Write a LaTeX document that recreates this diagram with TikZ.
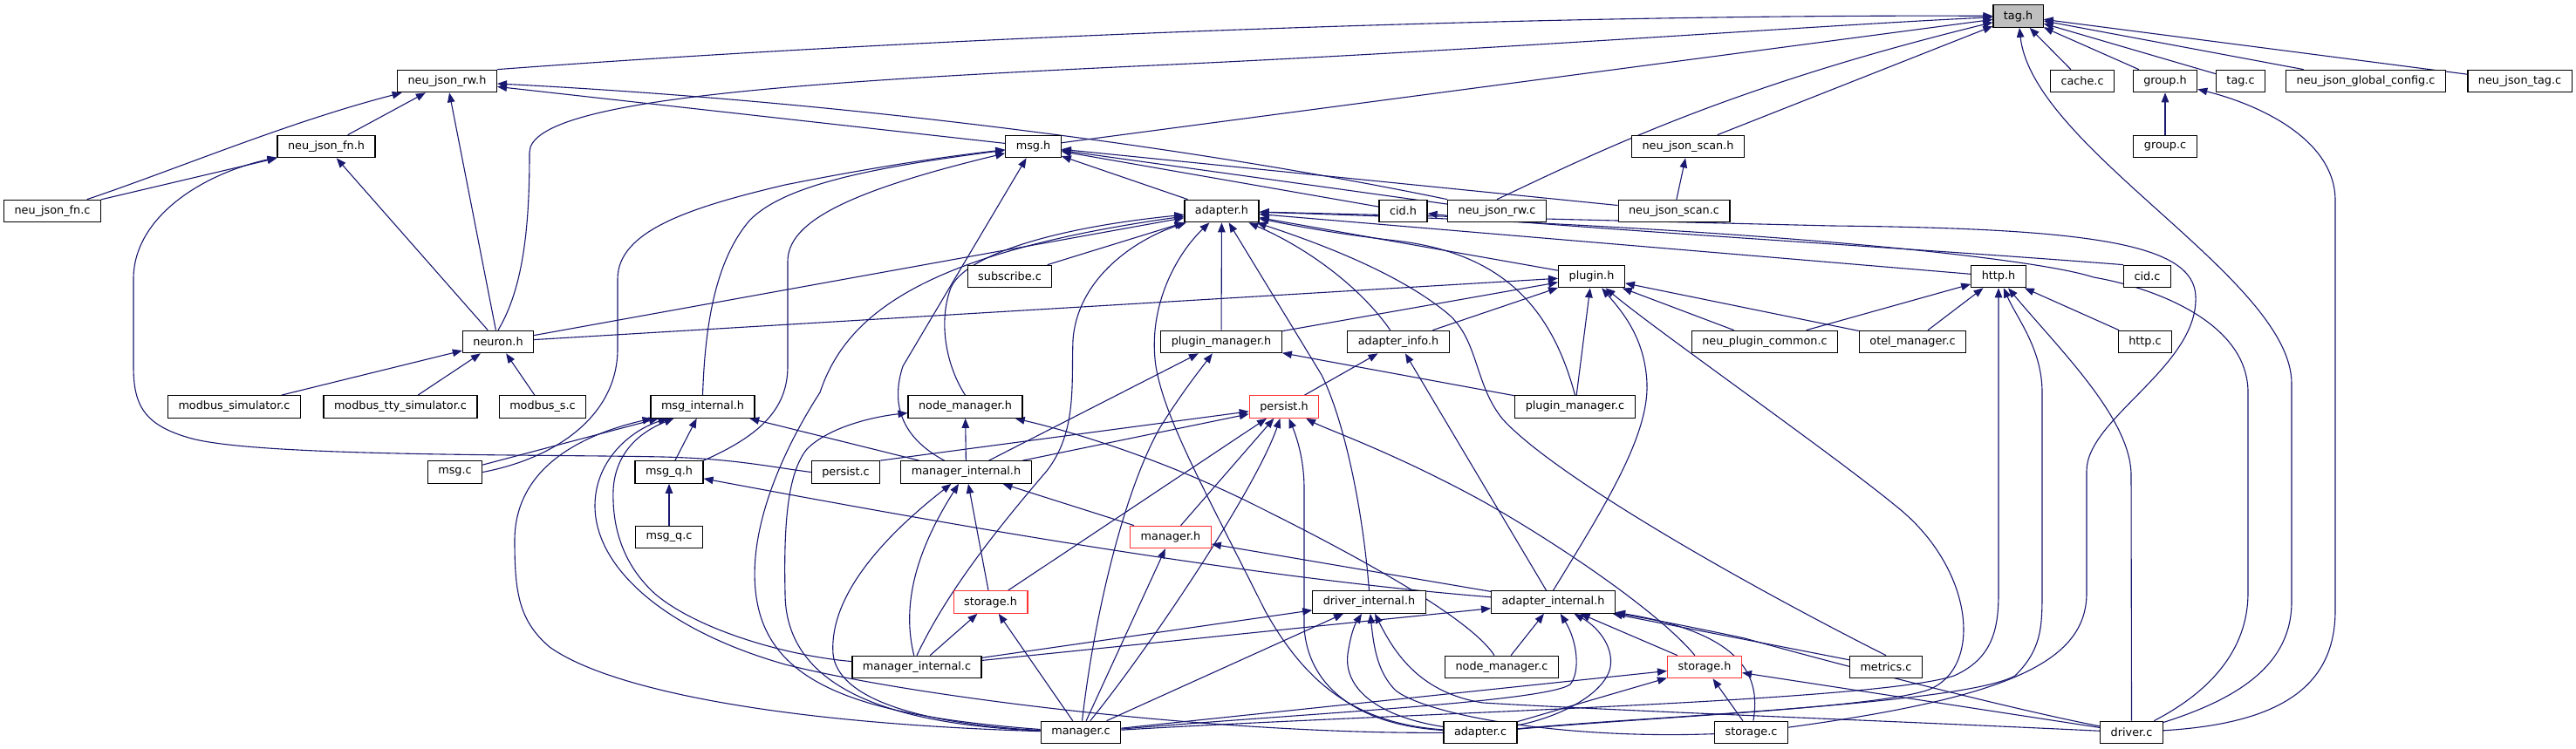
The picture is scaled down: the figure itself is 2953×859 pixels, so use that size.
\documentclass[tikz,border=0pt]{standalone}
\usepackage{fontspec}
\setmainfont{DejaVu Sans}
\usetikzlibrary{arrows.meta}
\pgfdeclarelayer{back}
\pgfdeclarelayer{bg}
\pgfsetlayers{back,bg,main}
\definecolor{depcol}{HTML}{191970}
\definecolor{redbd}{HTML}{FF3333}
\definecolor{maingray}{HTML}{BFBFBF}
\begin{document}
\begin{tikzpicture}[x=1pt,y=-1pt,
  box/.style={draw=black, line width=1.2pt, fill=white, minimum height=25.5pt,
    inner xsep=12pt, inner ysep=0pt, font=\fontsize{12.8}{15}\selectfont, text=black},
  hl/.style={box, draw=redbd},
  dep/.style={draw=depcol, line width=1.1pt, -{Triangle[length=11pt,width=8.5pt]}},
]
\begin{pgfonlayer}{back}
\fill[white] (0,0) rectangle (2953,859);
\end{pgfonlayer}
\useasboundingbox (0,0) rectangle (2953,859);

% ---------- nodes ----------
\node[box, fill=maingray] (tagh) at (2313.5,18.5) {tag.h};
\node[box] (jsonrwh) at (512.5,93) {neu\_json\_rw.h};
\node[box] (cachec) at (2387,93) {cache.c};
\node[box] (grouph) at (2482,93) {group.h};
\node[box] (tagc) at (2568.5,93) {tag.c};
\node[box] (globalc) at (2712,93) {neu\_json\_global\_config.c};
\node[box] (jsontagc) at (2888.5,93) {neu\_json\_tag.c};
\node[box] (jsonfnh) at (374,168) {neu\_json\_fn.h};
\node[box] (msgh) at (1184.5,168) {msg.h};
\node[box] (scanh) at (1935,168) {neu\_json\_scan.h};
\node[box] (groupc) at (2482,168) {group.c};
\node[box] (jsonfnc) at (60,242) {neu\_json\_fn.c};
\node[box] (adapterh) at (1400.5,242) {adapter.h};
\node[box] (cidh) at (1608.5,242) {cid.h};
\node[box] (jsonrwc) at (1716,242) {neu\_json\_rw.c};
\node[box] (scanc) at (1919,242) {neu\_json\_scan.c};
\node[box] (subscribec) at (1157.5,317) {subscribe.c};
\node[box] (pluginh) at (1824.5,317) {plugin.h};
\node[box] (httph) at (2291,317) {http.h};
\node[box] (cidc) at (2461.5,317) {cid.c};
\node[box] (neuronh) at (571,392) {neuron.h};
\node[box] (pmh) at (1400,392) {plugin\_manager.h};
\node[box] (aih) at (1603,392) {adapter\_info.h};
\node[box] (npcc) at (2023,392) {neu\_plugin\_common.c};
\node[box] (otelc) at (2192.5,392) {otel\_manager.c};
\node[box] (httpc) at (2459,392) {http.c};
\node[box] (modsimc) at (268.5,466.5) {modbus\_simulator.c};
\node[box] (modttyc) at (459,466.5) {modbus\_tty\_simulator.c};
\node[box] (modsc) at (622,466.5) {modbus\_s.c};
\node[box] (msginth) at (805.5,466.5) {msg\_internal.h};
\node[box] (nmh) at (1106.5,466.5) {node\_manager.h};
\node[hl] (persisth) at (1472,466.5) {persist.h};
\node[box] (pmc) at (1805.5,466.5) {plugin\_manager.c};
\node[box] (msgc) at (521.5,541.5) {msg.c};
\node[box] (msgqh) at (767,541.5) {msg\_q.h};
\node[box] (persistc) at (969.5,541.5) {persist.c};
\node[box] (mih) at (1107.5,541.5) {manager\_internal.h};
\node[box] (msgqc) at (767,616) {msg\_q.c};
\node[hl] (managerh) at (1342,616) {manager.h};
\node[hl] (storageh1) at (1135.5,690.5) {storage.h};
\node[box] (dih) at (1569.5,690.5) {driver\_internal.h};
\node[box] (aih2) at (1780.5,690.5) {adapter\_internal.h};
\node[box] (mic) at (1051,765) {manager\_internal.c};
\node[box] (nmc) at (1721.5,765) {node\_manager.c};
\node[hl] (storageh2) at (1954,765) {storage.h};
\node[box] (metricsc) at (2162,765) {metrics.c};
\node[box] (managerc) at (1239,840) {manager.c};
\node[box] (adapterc) at (1697,840) {adapter.c};
\node[box] (storagec) at (2007.5,840) {storage.c};
\node[box] (driverc) at (2443.5,840) {driver.c};

\begin{pgfonlayer}{bg}
% ---------- tag.h ----------
\draw[dep] (jsonrwh.north east) .. controls (1100,40) and (1800,16) .. (tagh);
\draw[dep] (neuronh.north) .. controls (600,330) and (607,260) .. (607,175) .. controls (607,115) and (900,95) .. (1300,76) .. controls (1700,58) and (2100,28) .. (tagh);
\draw[dep] (msgh) -- (tagh);
\draw[dep] (jsonrwc.north) .. controls (1830,175) and (1980,100) .. (tagh);
\draw[dep] (scanh) -- (tagh);
\draw[dep] (cachec) -- (tagh);
\draw[dep] (grouph) -- (tagh);
\draw[dep] (tagc) -- (tagh);
\draw[dep] (globalc) -- (tagh);
\draw[dep] (jsontagc) -- (tagh);
\draw[dep] (driverc) .. controls (2570,800) and (2627,760) .. (2627,690) -- (2627,440) .. controls (2627,320) and (2330,170) .. (tagh);
% ---------- neu_json_rw.h ----------
\draw[dep] (jsonfnc) .. controls (200,195) and (330,140) .. (jsonrwh);
\draw[dep] (jsonfnh) -- (jsonrwh);
\draw[dep] (neuronh) -- (jsonrwh);
\draw[dep] (msgh) -- (jsonrwh);
\draw[dep] (jsonrwc.north west) .. controls (1400,175) and (1000,118) .. (jsonrwh);
% ---------- group.h ----------
\draw[dep] (groupc) -- (grouph);
\draw[dep] (driverc) .. controls (2610,830) and (2677,790) .. (2677,700) -- (2677,230) .. controls (2677,160) and (2590,120) .. (grouph);
% ---------- neu_json_fn.h ----------
\draw[dep] (jsonfnc) -- (jsonfnh);
\draw[dep] (neuronh) -- (jsonfnh);
\draw[dep] (persistc.west) .. controls (880,535) and (840,526) .. (760,524) .. controls (620,521) and (300,524) .. (220,503) .. controls (165,488) and (153,465) .. (153,420) -- (153,320) .. controls (153,250) and (230,200) .. (jsonfnh);
% ---------- msg.h ----------
\draw[dep] (adapterh) -- (msgh);
\draw[dep] (cidh) -- (msgh);
\draw[dep] (jsonrwc) -- (msgh);
\draw[dep] (scanc) -- (msgh);
\draw[dep] (mih) .. controls (1030,500) and (1022,460) .. (1035,420) -- (msgh);
\draw[dep] (msgc.east) .. controls (640,525) and (708,475) .. (708,400) -- (708,320) .. controls (708,265) and (790,238) .. (900,212) .. controls (1000,192) and (1080,180) .. (msgh);
\draw[dep] (msginth.north) .. controls (808,380) and (818,300) .. (860,252) .. controls (900,212) and (1000,192) .. (msgh);
\draw[dep] (msgqh.north east) .. controls (870,500) and (903,470) .. (903,420) -- (903,300) .. controls (903,258) and (960,222) .. (msgh);
% ---------- neu_json_scan.h ----------
\draw[dep] (scanc) -- (scanh);
% ---------- adapter.h ----------
\draw[dep] (neuronh) -- (adapterh);
\draw[dep] (nmh.north) .. controls (1085,420) and (1075,370) .. (1090,330) .. controls (1105,295) and (1200,262) .. (adapterh);
\draw[dep] (managerc) .. controls (1000,822) and (893,790) .. (870,700) .. controls (850,620) and (895,520) .. (940,450) .. controls (970,360) and (1060,290) .. (adapterh);
\draw[dep] (subscribec) -- (adapterh);
\draw[dep] (mic.north) .. controls (1085,680) and (1140,610) .. (1200,540) .. controls (1235,495) and (1228,440) .. (1230,390) .. controls (1235,320) and (1300,275) .. (adapterh);
\draw[dep] (pmh) -- (adapterh);
\draw[dep] (adapterc) .. controls (1560,830) and (1500,790) .. (1450,700) .. controls (1380,560) and (1335,480) .. (1325,420) .. controls (1315,350) and (1350,290) .. (adapterh);
\draw[dep] (dih.north) .. controls (1562,580) and (1540,480) .. (1515,430) -- (adapterh);
\draw[dep] (aih) .. controls (1560,330) and (1500,285) .. (adapterh);
\draw[dep] (pluginh) -- (adapterh);
\draw[dep] (pmc.north) .. controls (1778,350) and (1720,290) .. (1600,276) .. controls (1530,268) and (1480,258) .. (adapterh);
\draw[dep] (metricsc.north) .. controls (2000,670) and (1780,545) .. (1722,480) .. controls (1690,440) and (1695,390) .. (1660,360) .. controls (1600,310) and (1500,275) .. (adapterh);
\draw[dep] (storagec) .. controls (2300,800) and (2392,760) .. (2392,680) -- (2392,540) .. controls (2392,480) and (2520,420) .. (2517,340) .. controls (2515,280) and (2400,262) .. (2100,259) -- (adapterh);
\draw[dep] (driverc) .. controls (2540,790) and (2577,740) .. (2577,680) -- (2577,450) .. controls (2577,370) and (2470,330) .. (2400,318) .. controls (2330,295) and (2000,260) .. (adapterh);
\draw[dep] (httph) -- (adapterh);
% ---------- cid.h ----------
\draw[dep] (cidc.north west) .. controls (2200,285) and (1800,262) .. (cidh);
% ---------- plugin.h ----------
\draw[dep] (neuronh) -- (pluginh);
\draw[dep] (pmh) -- (pluginh);
\draw[dep] (aih) -- (pluginh);
\draw[dep] (pmc) -- (pluginh);
\draw[dep] (aih2.north) .. controls (1840,580) and (1890,500) .. (1888,440) .. controls (1886,390) and (1862,360) .. (pluginh);
\draw[dep] (adapterc) .. controls (1900,822) and (2150,812) .. (2211,791) .. controls (2275,765) and (2262,650) .. (2173,580) .. controls (2100,520) and (1900,380) .. (pluginh);
\draw[dep] (npcc) -- (pluginh);
\draw[dep] (otelc) -- (pluginh);
% ---------- http.h ----------
\draw[dep] (npcc) -- (httph);
\draw[dep] (otelc) -- (httph);
\draw[dep] (httpc) -- (httph);
\draw[dep] (driverc.north) -- (2443,545) .. controls (2443,480) and (2360,400) .. (httph);
\draw[dep] (managerc) .. controls (1600,818) and (2150,805) .. (2240,775) .. controls (2285,755) and (2291,720) .. (2291,680) -- (httph);
\draw[dep] (adapterc) .. controls (1880,822) and (2250,808) .. (2310,775) .. controls (2340,745) and (2341,720) .. (2341,680) -- (2341,450) .. controls (2341,400) and (2312,365) .. (httph);
% ---------- adapter_info.h ----------
\draw[dep] (persisth) -- (aih);
\draw[dep] (aih2) -- (aih);
% ---------- plugin_manager.h ----------
\draw[dep] (pmc) -- (pmh);
\draw[dep] (mih) -- (pmh);
\draw[dep] (managerc) .. controls (1255,700) and (1290,560) .. (1330,490) .. controls (1355,450) and (1375,425) .. (pmh);
% ---------- node_manager.h ----------
\draw[dep] (mih) -- (nmh);
\draw[dep] (managerc) .. controls (1000,830) and (900,780) .. (900,680) .. controls (898,590) and (905,540) .. (925,515) .. controls (950,490) and (1000,478) .. (nmh);
\draw[dep] (nmc) .. controls (1680,700) and (1500,610) .. (1440,580) .. controls (1350,535) and (1250,500) .. (nmh);
% ---------- msg_internal.h ----------
\draw[dep] (msgc) -- (msginth);
\draw[dep] (msgqh) -- (msginth);
\draw[dep] (mih) -- (msginth);
\draw[dep] (managerc) .. controls (900,830) and (700,792) .. (630,742) .. controls (595,712) and (590,680) .. (590,620) .. controls (590,540) and (660,500) .. (msginth);
\draw[dep] (adapterc) .. controls (1400,842) and (1050,800) .. (900,762) .. controls (760,722) and (682,650) .. (682,580) .. controls (682,530) and (720,495) .. (msginth);
\draw[dep] (mic) .. controls (900,752) and (800,722) .. (752,682) .. controls (707,642) and (702,592) .. (703,562) .. controls (705,522) and (730,497) .. (msginth);
% ---------- msg_q.h ----------
\draw[dep] (msgqc) -- (msgqh);
\draw[dep] (aih2) .. controls (1400,660) and (1000,585) .. (msgqh);
% ---------- persist.h ----------
\draw[dep] (persistc.north east) -- (persisth);
\draw[dep] (mih) -- (persisth);
\draw[dep] (storageh1) -- (persisth);
\draw[dep] (managerh) -- (persisth);
\draw[dep] (managerc) .. controls (1320,740) and (1440,560) .. (persisth);
\draw[dep] (adapterc) .. controls (1560,832) and (1500,790) .. (1495,720) -- (1495,560) .. controls (1495,530) and (1488,505) .. (persisth);
\draw[dep] (storageh2) .. controls (1900,700) and (1780,620) .. (1700,575) .. controls (1600,520) and (1520,492) .. (persisth);
% ---------- manager.h ----------
\draw[dep] (managerc) -- (managerh);
\draw[dep] (aih2) -- (managerh);
% ---------- manager_internal.h ----------
\draw[dep] (managerc) .. controls (1050,830) and (960,800) .. (955,750) .. controls (950,680) and (1020,610) .. (mih);
\draw[dep] (mic) .. controls (1035,700) and (1045,640) .. (mih);
\draw[dep] (storageh1) -- (mih);
\draw[dep] (managerh) -- (mih);
% ---------- storage.h (left) ----------
\draw[dep] (mic) -- (storageh1);
\draw[dep] (managerc) -- (storageh1);
% ---------- driver_internal.h ----------
\draw[dep] (mic) -- (dih);
\draw[dep] (managerc) -- (dih);
\draw[dep] (adapterc) .. controls (1580,822) and (1540,790) .. (1545,750) .. controls (1548,730) and (1552,718) .. (dih);
\draw[dep] (storagec) .. controls (1800,848) and (1640,822) .. (1600,792) .. controls (1580,772) and (1575,745) .. (dih);
\draw[dep] (driverc) .. controls (2150,826) and (1850,815) .. (1700,806) .. controls (1630,795) and (1600,752) .. (dih);
% ---------- adapter_internal.h ----------
\draw[dep] (mic) -- (aih2);
\draw[dep] (nmc) -- (aih2);
\draw[dep] (managerc) .. controls (1500,818) and (1770,805) .. (1800,785) .. controls (1812,770) and (1808,735) .. (aih2);
\draw[dep] (adapterc) .. controls (1790,822) and (1840,795) .. (1846,765) .. controls (1850,740) and (1830,718) .. (aih2);
\draw[dep] (storageh2) -- (aih2);
\draw[dep] (metricsc) -- (aih2);
\draw[dep] (driverc) .. controls (2300,812) and (2100,760) .. (2000,732) .. controls (1920,715) and (1880,708) .. (aih2);
\draw[dep] (storagec) .. controls (2020,770) and (1990,725) .. (aih2);
% ---------- storage.h (right) ----------
\draw[dep] (managerc) -- (storageh2);
\draw[dep] (adapterc) -- (storageh2);
\draw[dep] (storagec) -- (storageh2);
\draw[dep] (driverc) -- (storageh2);
% ---------- neuron.h ----------
\draw[dep] (modsimc) -- (neuronh);
\draw[dep] (modttyc) -- (neuronh);
\draw[dep] (modsc) -- (neuronh);
\end{pgfonlayer}
\end{tikzpicture}
\end{document}
